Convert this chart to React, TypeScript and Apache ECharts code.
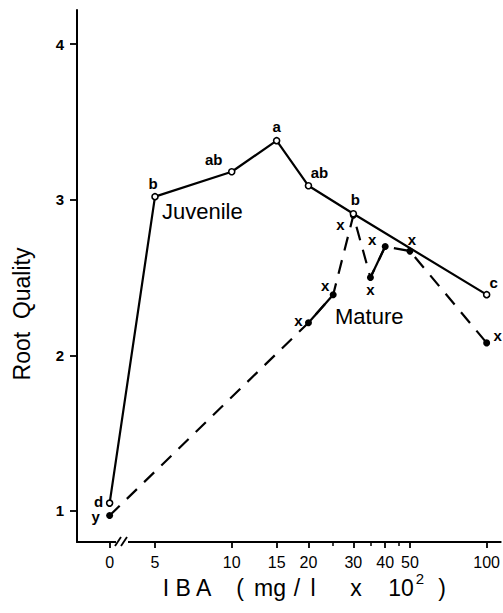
import React, { useEffect, useRef } from "react";
import * as echarts from "echarts";

// ---- data ----
const doseTicks = [0, 5, 10, 15, 20, 30, 40, 50, 100];
const minorDoseTicks = [25, 35, 45];
const qualityTicks = [1, 2, 3, 4];

const juvenileDose = [0, 5, 10, 15, 20, 30, 100];
const juvenileQuality = [1.05, 3.02, 3.18, 3.38, 3.09, 2.91, 2.39];
const juvenileLetters = ["d", "b", "ab", "a", "ab", "b", "c"];

const matureDose = [0, 20, 25, 30, 35, 40, 50, 100];
const matureQuality = [0.97, 2.21, 2.39, 2.9, 2.5, 2.7, 2.67, 2.08];
const matureLetters = ["y", "x", "x", "x", "x", "x", "x", "x"];
const matureSolidSegments = [
  [20, 25],
  [35, 40],
];

// ---- styling (label offsets in px) ----
const juvenileLabelOffsets = [
  [-11, -2],
  [-2, -13],
  [-18, -12],
  [0, -14],
  [11, -13],
  [2, -14],
  [7, -12],
];
const matureLabelOffsets = [
  [-14, 1],
  [-10, -2],
  [-8, -9],
  [-13, 9],
  [0, 12],
  [-13, -7],
  [2, -12],
  [11, -7],
];

// x-axis title pieces (hand-lettered, widely spaced): [text, centre x, font size, y]
const xTitlePieces: [string, number, number, number][] = [
  ["I B A", 187, 23, 588],
  ["(", 240, 23, 588],
  ["mg", 270, 23, 588],
  ["/", 297, 23, 588],
  ["l", 313, 23, 588],
  ["x", 356, 23, 588],
  ["10", 401, 23, 588],
  ["2", 420, 15, 578],
  [")", 442, 23, 588],
];

const FONT = "Liberation Sans, Arial, sans-serif";
const X_MIN = 0.393;
const X_MAX = 2.055;
const ZERO_POS = 0.521; // log-position where the broken-axis "0" sits
const toX = (d: number) => (d === 0 ? ZERO_POS : Math.log10(d));

const labelFor = (v: number) => {
  let best = doseTicks[0];
  let bd = Infinity;
  for (const d of doseTicks) {
    const dd = Math.abs(toX(d) - v);
    if (dd < bd) {
      bd = dd;
      best = d;
    }
  }
  return String(best);
};

export default function App() {
  const ref = useRef<HTMLDivElement>(null);

  useEffect(() => {
    document.body.style.margin = "0";
    if (!ref.current) return;
    const chart = echarts.init(ref.current, null, { renderer: "svg" });

    const letterLabel = (text: string, off: number[]) => ({
      show: true,
      formatter: text,
      position: "inside",
      offset: off,
      color: "#000",
      fontFamily: FONT,
      fontWeight: "bold",
      fontSize: 15,
    });

    const juvenileData = juvenileDose.map((d, i) => ({
      value: [toX(d), juvenileQuality[i]],
      label: letterLabel(juvenileLetters[i], juvenileLabelOffsets[i]),
    }));
    const matureData = matureDose.map((d, i) => ({
      value: [toX(d), matureQuality[i]],
      label: letterLabel(matureLetters[i], matureLabelOffsets[i]),
    }));

    const solidSeries = matureSolidSegments.map((seg) => ({
      type: "line",
      symbol: "none",
      silent: true,
      z: 3,
      lineStyle: { color: "#000", width: 2.2, type: "solid" },
      data: seg.map((d) => [toX(d), matureQuality[matureDose.indexOf(d)]]),
    }));

    const titleGraphics = xTitlePieces.map(([t, x, fs, y]) => ({
      type: "text",
      x,
      y,
      style: {
        text: t,
        font: `${fs}px ${FONT}`,
        fill: "#000",
        align: "center",
        verticalAlign: "middle",
      },
    }));

    chart.setOption({
      animation: false,
      backgroundColor: "#fff",
      grid: { left: 77, right: 0, top: 10, bottom: 71, containLabel: false },
      xAxis: [
        {
          type: "value",
          min: X_MIN,
          max: X_MAX,
          axisLine: { show: true, onZero: false, lineStyle: { color: "#000", width: 2 } },
          axisTick: {
            show: true,
            customValues: doseTicks.map(toX),
            length: 6,
            lineStyle: { color: "#000", width: 1.8 },
          },
          axisLabel: {
            show: true,
            customValues: doseTicks.map(toX),
            formatter: (v: number) => labelFor(v),
            color: "#000",
            fontFamily: FONT,
            fontSize: 16,
            margin: 12,
          },
          splitLine: { show: false },
        },
        {
          type: "value",
          position: "bottom",
          min: X_MIN,
          max: X_MAX,
          axisLine: { show: false },
          axisTick: {
            show: true,
            customValues: minorDoseTicks.map(toX),
            length: 4,
            lineStyle: { color: "#000", width: 1.5 },
          },
          axisLabel: { show: false },
          splitLine: { show: false },
        },
      ],
      yAxis: {
        type: "value",
        min: 0.8,
        max: 4.22,
        axisLine: { show: true, onZero: false, lineStyle: { color: "#000", width: 2 } },
        axisTick: {
          show: true,
          customValues: qualityTicks,
          length: 7,
          lineStyle: { color: "#000", width: 1.8 },
        },
        axisLabel: {
          show: true,
          customValues: qualityTicks,
          color: "#000",
          fontFamily: FONT,
          fontWeight: "bold",
          fontSize: 15,
          margin: 13,
        },
        splitLine: { show: false },
      },
      graphic: [
        { type: "rect", shape: { x: 116, y: 534, width: 12, height: 12 }, style: { fill: "#fff" }, z: 100 },
        { type: "line", shape: { x1: 115, y1: 546, x2: 121, y2: 537 }, style: { stroke: "#000", lineWidth: 1.8 }, z: 101 },
        { type: "line", shape: { x1: 121, y1: 546, x2: 127, y2: 537 }, style: { stroke: "#000", lineWidth: 1.8 }, z: 101 },
        ...titleGraphics,
        {
          type: "text",
          x: 22,
          y: 314,
          rotation: Math.PI / 2,
          style: {
            text: "Root  Quality",
            font: `23px ${FONT}`,
            fill: "#000",
            align: "center",
            verticalAlign: "middle",
          },
        },
        {
          type: "text",
          x: 162,
          y: 211,
          style: { text: "Juvenile", font: `22px ${FONT}`, fill: "#000", align: "left", verticalAlign: "middle" },
        },
        {
          type: "text",
          x: 335,
          y: 316,
          style: { text: "Mature", font: `22px ${FONT}`, fill: "#000", align: "left", verticalAlign: "middle" },
        },
      ],
      series: [
        {
          name: "Mature",
          type: "line",
          z: 2,
          symbol: "circle",
          symbolSize: 7,
          itemStyle: { color: "#000" },
          lineStyle: { color: "#000", width: 2.2, type: [14, 10] },
          data: matureData,
        },
        ...solidSeries,
        {
          name: "Juvenile",
          type: "line",
          z: 4,
          symbol: "circle",
          symbolSize: 6,
          itemStyle: { color: "#fff", borderColor: "#000", borderWidth: 1.6 },
          lineStyle: { color: "#000", width: 2.2 },
          data: juvenileData,
        },
      ],
    });

    return () => chart.dispose();
  }, []);

  return <div ref={ref} style={{ width: 503, height: 613 }} />;
}
